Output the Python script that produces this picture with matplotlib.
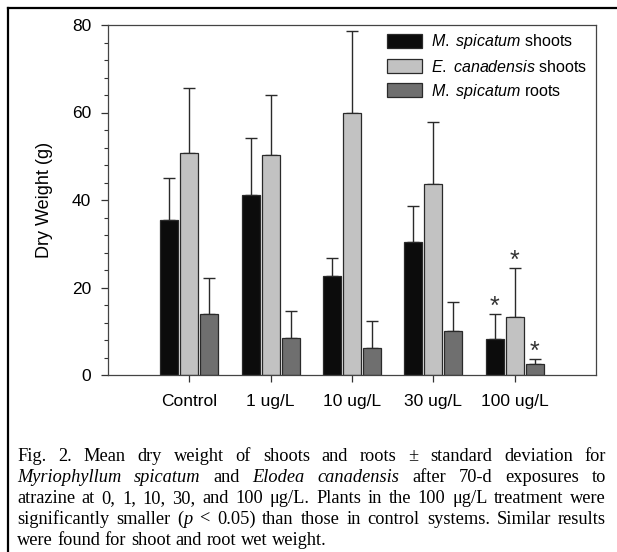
import numpy as np
import matplotlib.pyplot as plt
from matplotlib.lines import Line2D
from matplotlib.ticker import MultipleLocator

plt.rcParams['font.family'] = ['Liberation Sans', 'DejaVu Sans']
plt.rcParams['mathtext.fontset'] = 'custom'
plt.rcParams['mathtext.it'] = 'Liberation Sans:italic'
plt.rcParams['mathtext.rm'] = 'Liberation Sans'

# data
categories = ['Control', '1 ug/L', '10 ug/L', '30 ug/L', '100 ug/L']
ms_shoots = [35.4, 41.1, 22.6, 30.5, 8.2]
ms_shoots_sd = [9.7, 13.0, 4.2, 8.1, 5.7]
ec_shoots = [50.7, 50.3, 60.0, 43.7, 13.3]
ec_shoots_sd = [14.8, 13.7, 18.6, 14.1, 11.1]
ms_roots = [13.9, 8.5, 6.1, 10.1, 2.5]
ms_roots_sd = [8.2, 6.1, 6.2, 6.7, 1.1]
signif = [False, False, False, False, True]  # 100 ug/L differs from control

series_names = [r'$\it{M.\ spicatum}$ shoots', r'$\it{E.\ canadensis}$ shoots', r'$\it{M.\ spicatum}$ roots']
series_colors = ['#0c0c0c', '#c2c2c2', '#6f6f6f']

caption = [
    'Fig. 2. Mean dry weight of shoots and roots \u00b1 standard deviation for',
    '*Myriophyllum* *spicatum* and *Elodea* *canadensis* after 70-d exposures to',
    'atrazine at 0, 1, 10, 30, and 100 \u03bcg/L. Plants in the 100 \u03bcg/L treatment were',
    'significantly smaller (*p* < 0.05) than those in control systems. Similar results',
    'were found for shoot and root wet weight.',
]

W, H = 617, 552
fig = plt.figure(figsize=(W / 100, H / 100), dpi=100)
ax = fig.add_axes([108 / W, 1 - 375 / H, (596 - 108) / W, (375 - 25) / H])

x = np.arange(1, len(categories) + 1)
off = 0.247
bw = 0.22
all_vals = [ms_shoots, ec_shoots, ms_roots]
all_sd = [ms_shoots_sd, ec_shoots_sd, ms_roots_sd]
for k in range(3):
    xs = x + (k - 1) * off
    ax.bar(xs, all_vals[k], bw, color=series_colors[k], edgecolor='#2a2a2a', linewidth=0.9,
           label=series_names[k], zorder=2)
    ax.errorbar(xs, all_vals[k], yerr=[np.zeros(5), all_sd[k]], fmt='none', ecolor='#2a2a2a',
                elinewidth=1.0, capsize=4.5, capthick=1.0, zorder=1)
    for i in range(len(categories)):
        if signif[i]:
            ax.text(xs[i], all_vals[k][i] + all_sd[k][i] - 1.0, '*', ha='center', va='bottom',
                    fontsize=18, color='#333333')

ax.set_xlim(0, 6)
ax.set_ylim(0, 80)
ax.set_xticks(x)
ax.set_xticklabels(categories)
ax.yaxis.set_major_locator(MultipleLocator(20))
ax.yaxis.set_minor_locator(MultipleLocator(4))
ax.tick_params(axis='both', which='major', labelsize=12.5, length=5, width=0.9, color='#333333')
ax.tick_params(axis='y', which='minor', length=3, width=0.8, color='#333333')
ax.tick_params(axis='y', pad=7)
ax.tick_params(axis='x', pad=9)
for s in ax.spines.values():
    s.set_color('#444444')
    s.set_linewidth(0.9)
ax.set_ylabel('Dry Weight (g)', fontsize=13, labelpad=14)

ax.legend(loc='upper right', frameon=False, fontsize=11.5, handlelength=2.2, handleheight=0.95,
          labelspacing=0.45, handletextpad=0.6, bbox_to_anchor=(1.012, 1.02))

# frame lines around the figure (cut off at right and bottom)
fig.add_artist(Line2D([8 / W, 1], [1 - 8 / H, 1 - 8 / H], transform=fig.transFigure, color='black', lw=1.6))
fig.add_artist(Line2D([8 / W, 8 / W], [0, 1 - 8 / H], transform=fig.transFigure, color='black', lw=1.6))

# caption, justified word by word
cap_size = 13.2
x0, x1 = 17, 606
base0, dy = 461, 21
renderer = fig.canvas.get_renderer()


def measure(txt, italic):
    t = fig.text(0, 0, txt, fontsize=cap_size, family='Liberation Serif',
                 style='italic' if italic else 'normal')
    w = t.get_window_extent(renderer).width
    t.remove()
    return w


space = measure('a a', False) - measure('aa', False)
for i, line in enumerate(caption):
    words = []
    for w in line.split(' '):
        parts = w.split('*')
        words.append([(p, k % 2 == 1) for k, p in enumerate(parts) if p])
    widths = [sum(measure(p, it) for p, it in wd) for wd in words]
    if i < len(caption) - 1:
        gap = (x1 - x0 - sum(widths)) / (len(words) - 1)
    else:
        gap = space
    xp = x0
    yb = 1 - (base0 + i * dy) / H
    for wd, ww in zip(words, widths):
        xq = xp
        for p, it in wd:
            fig.text(xq / W, yb, p, fontsize=cap_size, family='Liberation Serif',
                     style='italic' if it else 'normal', va='baseline', ha='left')
            xq += measure(p, it)
        xp += ww + gap

fig.savefig('out.png', dpi=100)
